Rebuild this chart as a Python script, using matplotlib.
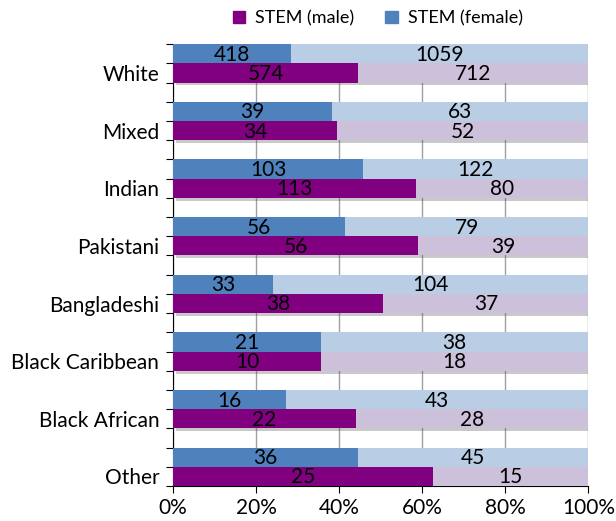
import numpy as np
import matplotlib.pyplot as plt
import matplotlib.patheffects as pe
from matplotlib.patches import Patch

plt.rcParams['font.family'] = ['Lato', 'DejaVu Sans']

groups = ['White', 'Mixed', 'Indian', 'Pakistani', 'Bangladeshi',
          'Black Caribbean', 'Black African', 'Other']
female_stem = [418, 39, 103, 56, 33, 21, 16, 36]
female_other = [1059, 63, 122, 79, 104, 38, 43, 45]
male_stem = [574, 34, 113, 56, 38, 10, 22, 25]
male_other = [712, 52, 80, 39, 37, 18, 28, 15]

c_male = '#800080'
c_male_l = '#CCC0DA'
c_fem = '#4F81BD'
c_fem_l = '#B9CDE5'

fig = plt.figure(figsize=(6.16, 5.21), dpi=100)
ax = fig.add_axes([0.281, 0.0672, 0.674, 0.848])

n = len(groups)
# group i occupies 3 units: female bar, male bar, gap
y_fem = np.array([3 * i + 0.5 for i in range(n)])
y_male = y_fem + 1

shadow = [pe.SimplePatchShadow(offset=(2, -2), alpha=0.3), pe.Normal()]

def draw(y, stem, other, c1, c2):
    stem = np.array(stem, float)
    other = np.array(other, float)
    tot = stem + other
    p1 = stem / tot
    p2 = other / tot
    # shadow behind the whole bar only
    back = ax.barh(y, np.ones(len(y)), height=1.0, color='white', zorder=1.5)
    for b in back:
        b.set_path_effects(shadow)
    ax.barh(y, p1, height=1.0, color=c1, zorder=3)
    ax.barh(y, p2, left=p1, height=1.0, color=c2, zorder=3)
    for yy, a, b, s, o in zip(y, p1, p2, stem, other):
        ax.text(a / 2, yy + 0.05, f'{int(s)}', ha='center', va='center',
                fontsize=15, color='black', zorder=5)
        ax.text(a + b / 2, yy + 0.05, f'{int(o)}', ha='center', va='center',
                fontsize=15, color='black', zorder=5)

draw(y_fem, female_stem, female_other, c_fem, c_fem_l)
draw(y_male, male_stem, male_other, c_male, c_male_l)

ax.set_xlim(0, 1)
ax.set_ylim(3 * n - 1, 0)
ax.set_xticks(np.linspace(0, 1, 6))
ax.set_xticklabels([f'{int(v)}%' for v in np.linspace(0, 100, 6)], fontsize=15)
ax.grid(axis='x', color='#A0A0A0', linewidth=1, zorder=0)
ax.set_axisbelow(True)

edges = sorted(set(list(y_fem - 0.5) + list(y_fem + 0.5) + list(y_male + 0.5)))
ax.set_yticks(edges)
ax.set_yticklabels([])
ax.set_yticks(y_male, minor=True)
ax.set_yticklabels(groups, minor=True, fontsize=15)
ax.tick_params(axis='y', which='minor', length=0, pad=10)
ax.tick_params(axis='y', which='major', length=5, direction='out')
ax.tick_params(axis='x', length=5, labelsize=15)

for s in ['top', 'right']:
    ax.spines[s].set_visible(False)
ax.spines['left'].set_color('black')
ax.spines['bottom'].set_color('black')

handles = [Patch(color=c_male, label='STEM (male)'),
           Patch(color=c_fem, label='STEM (female)')]
fig.legend(handles=handles, loc='center', bbox_to_anchor=(0.613, 0.965), ncol=2,
           frameon=False, fontsize=13, handlelength=0.7, handleheight=0.7,
           columnspacing=1.7, handletextpad=0.55)

fig.savefig('out.png', dpi=100)
